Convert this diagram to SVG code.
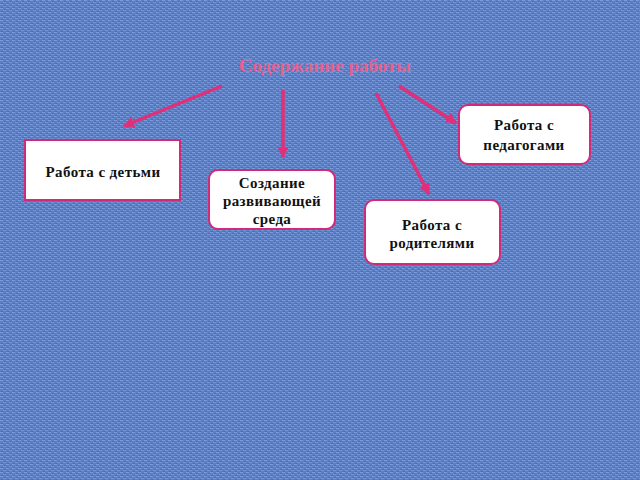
<svg xmlns="http://www.w3.org/2000/svg" width="640" height="480" viewBox="0 0 640 480">
<defs>
<pattern id="tex" width="6" height="4" patternUnits="userSpaceOnUse">
<rect width="6" height="4" fill="#5c7ec4"/>
<rect x="0" y="0" width="3" height="1" fill="#7b9cdb"/>
<rect x="3" y="2" width="3" height="1" fill="#7494d3"/>
<rect x="1" y="3" width="2" height="1" fill="#4a6cb0"/>
<rect x="4" y="1" width="2" height="1" fill="#4d6fb4"/>
</pattern>
<marker id="ah" viewBox="0 0 10 10" refX="9" refY="5" markerWidth="3.2" markerHeight="3.2" orient="auto" markerUnits="strokeWidth">
<path d="M0,0 L10,5 L0,10 z" fill="#e0307a"/>
</marker>
<style>
.box{fill:#fff;stroke:#d02a78;stroke-width:2}
.c{stroke:#e0307a;stroke-width:3.5;fill:none;marker-end:url(#ah)}
</style>
</defs>
<rect width="640" height="480" fill="url(#tex)"/>
<text x="325" y="72" font-family="Liberation Serif, DejaVu Serif, serif" font-size="19" font-weight="bold" fill="#e8608e" text-anchor="middle">Содержание работы</text>
<g id="connectors">
<line class="c" x1="222" y1="86" x2="124" y2="126"/>
<line class="c" x1="283" y1="90" x2="283" y2="157"/>
<line class="c" x1="376" y1="93" x2="429" y2="194"/>
<line class="c" x1="399" y1="86" x2="456" y2="123"/>
</g>
<g font-family="Liberation Serif, DejaVu Serif, serif" font-weight="bold" font-size="15" fill="#111" text-anchor="middle" letter-spacing="0.4">
<g id="n1">
<rect class="box" x="25" y="140" width="155" height="60"/>
<text x="103" y="177">Работа с детьми</text>
</g>
<g id="n2">
<rect class="box" x="209" y="170" width="126" height="59" rx="9"/>
<text x="272" y="188">Создание</text>
<text x="272" y="206">развивающей</text>
<text x="272" y="224">среда</text>
</g>
<g id="n3">
<rect class="box" x="365" y="200" width="135" height="64" rx="9"/>
<text x="432" y="230">Работа с</text>
<text x="432" y="248">родителями</text>
</g>
<g id="n4">
<rect class="box" x="459" y="105" width="131" height="59" rx="9"/>
<text x="524" y="130">Работа с</text>
<text x="524" y="150">педагогами</text>
</g>
</g>
</svg>
